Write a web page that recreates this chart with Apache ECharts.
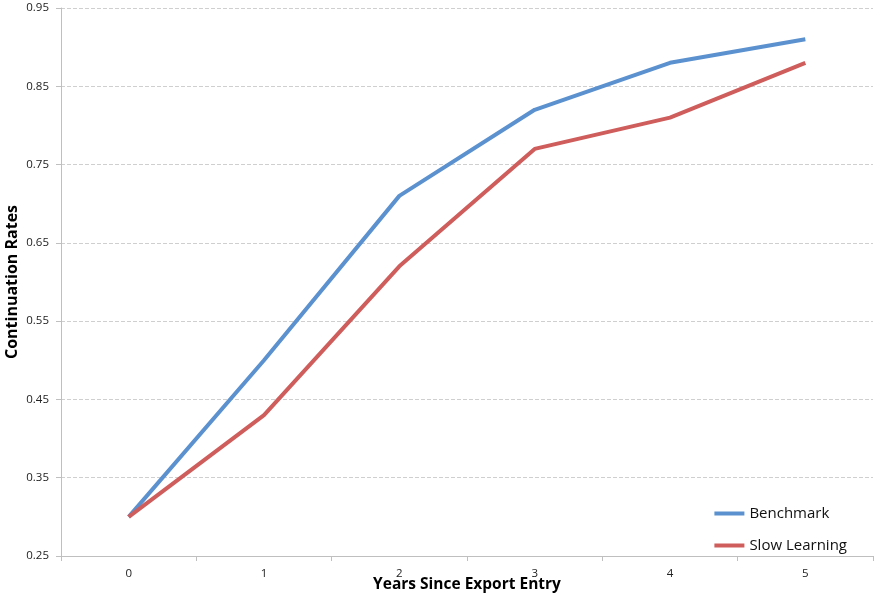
<!DOCTYPE html>
<html><head><meta charset="utf-8">
<script src="https://cdn.jsdelivr.net/npm/echarts@6/dist/echarts.min.js"></script>
<style>html,body{margin:0;padding:0;background:#fff}#c{width:876px;height:596px}</style>
</head><body><div id="c"></div>
<script>
const categories = ['0','1','2','3','4','5'];
const benchmark = [0.30, 0.50, 0.71, 0.82, 0.88, 0.91];
const slowLearning = [0.30, 0.43, 0.62, 0.77, 0.81, 0.88];
const yTicks = [0.25, 0.35, 0.45, 0.55, 0.65, 0.75, 0.85, 0.95];

const chart = echarts.init(document.getElementById('c'));
const font = '"Open Sans", "Liberation Sans", sans-serif';
chart.setOption({
  animation: false,
  textStyle: {fontFamily: font},
  grid: {left: 61, right: 3, top: 8, bottom: 40, containLabel: false, outerBoundsMode: 'none'},
  legend: {
    orient: 'vertical', right: 24, bottom: 38,
    itemWidth: 30, itemHeight: 4, itemGap: 17,
    icon: 'rect',
    textStyle: {fontSize: 15, color: '#111', fontFamily: font},
    data: ['Benchmark', 'Slow Learning']
  },
  xAxis: {
    type: 'category', data: categories, boundaryGap: true,
    name: 'Years Since Export Entry', nameLocation: 'middle', nameGap: 21, nameMoveOverlap: false,
    nameTextStyle: {fontSize: 15.5, fontWeight: 'bold', color: '#000', fontFamily: font},
    axisLine: {lineStyle: {color: '#bfbfbf', width: 1}},
    axisTick: {show: true, alignWithLabel: false, length: 5, lineStyle: {color: '#bfbfbf'}},
    axisLabel: {fontSize: 11.5, color: '#222', margin: 12}
  },
  yAxis: {
    type: 'value', min: 0.25, max: 0.95, interval: 0.1,
    name: 'Continuation Rates', nameLocation: 'middle', nameGap: 41, nameMoveOverlap: false,
    nameTextStyle: {fontSize: 16, fontWeight: 'bold', color: '#000', fontFamily: font},
    axisLine: {show: true, lineStyle: {color: '#bfbfbf', width: 1}},
    axisTick: {show: true, length: 5, lineStyle: {color: '#bfbfbf'}},
    axisLabel: {fontSize: 11.5, color: '#222', margin: 12, formatter: v => v.toFixed(2)},
    splitLine: {show: true, lineStyle: {color: '#cfcfcf', type: 'dashed', width: 1}}
  },
  series: [
    {name: 'Benchmark', type: 'line', data: benchmark, symbol: 'none',
     lineStyle: {width: 4, color: '#5B91CF'}, itemStyle: {color: '#5B91CF'}},
    {name: 'Slow Learning', type: 'line', data: slowLearning, symbol: 'none',
     lineStyle: {width: 4, color: '#CE5D5B'}, itemStyle: {color: '#CE5D5B'}}
  ]
});
</script></body></html>
